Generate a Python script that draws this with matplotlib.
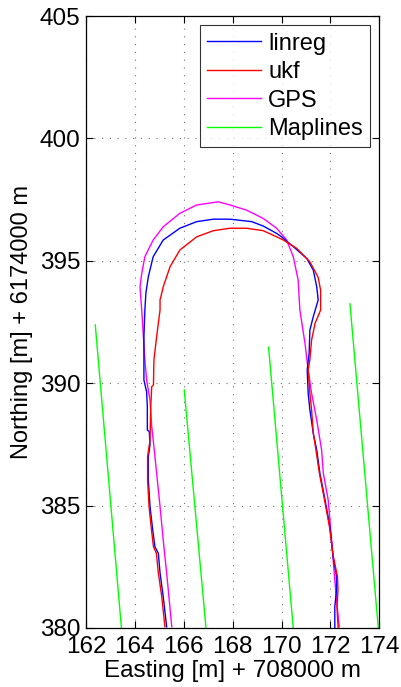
import matplotlib
matplotlib.use("Agg")
import matplotlib.pyplot as plt

plt.rcParams['font.family'] = ['Liberation Sans', 'DejaVu Sans']

# linreg trajectory
linreg_x = [165.30, 165.16, 165.03, 164.96, 164.82, 164.73, 164.62, 164.55, 164.55, 164.62,
            164.59, 164.51, 164.51, 164.48, 164.37, 164.37, 164.41, 164.45, 164.55, 164.75,
            165.16, 165.84, 166.53, 167.21, 167.89, 168.78, 169.25, 169.80, 170.00, 170.48,
            171.03, 171.30, 171.44, 171.50, 171.30, 171.16, 171.13, 171.05, 171.09, 171.16,
            171.30, 171.44, 171.57, 171.78, 171.98, 172.11, 172.25, 172.25, 172.18, 172.18, 172.18]
linreg_y = [380.05, 381.28, 382.25, 383.05, 383.32, 384.00, 384.96, 386.05, 387.00, 387.48,
            388.02, 388.09, 389.04, 389.65, 390.13, 391.90, 392.99, 393.67, 394.35, 395.17,
            395.85, 396.33, 396.60, 396.70, 396.70, 396.60, 396.42, 396.12, 395.98, 395.58,
            395.10, 394.62, 393.94, 393.40, 392.72, 392.17, 391.22, 390.54, 389.59, 388.91,
            387.95, 387.27, 386.32, 385.23, 384.14, 382.91, 382.10, 381.55, 380.87, 380.46, 380.00]

# ukf trajectory
ukf_x = [165.23, 165.10, 164.96, 164.88, 164.76, 164.68, 164.58, 164.52, 164.52, 164.62,
         164.65, 164.69, 164.76, 164.78, 164.89, 165.03, 165.03, 165.10, 165.16, 165.44,
         165.84, 166.53, 167.21, 167.89, 168.57, 169.25, 169.80, 170.07, 170.62, 171.16,
         171.50, 171.60, 171.60, 171.37, 171.23, 171.16, 171.09, 171.16, 171.23, 171.30,
         171.41, 171.55, 171.76, 171.96, 172.12, 172.29, 172.31, 172.27, 172.29, 172.32]
ukf_y = [380.05, 381.28, 382.25, 383.05, 383.32, 384.00, 384.96, 386.05, 387.00, 387.68,
         389.04, 389.86, 389.93, 390.95, 391.90, 392.99, 393.40, 393.68, 393.94, 394.76,
         395.44, 395.98, 396.23, 396.33, 396.33, 396.23, 395.98, 395.85, 395.51, 394.96,
         394.32, 393.80, 392.99, 392.44, 391.76, 390.95, 390.54, 389.59, 388.91, 387.95,
         387.27, 386.32, 385.23, 384.14, 382.91, 382.10, 381.55, 380.87, 380.46, 380.00]

# GPS trajectory
gps_x = [165.51, 165.30, 165.16, 165.03, 164.89, 164.75, 164.69, 164.62, 164.48, 164.41,
         164.34, 164.28, 164.21, 164.28, 164.41, 164.75, 165.16, 165.84, 166.53, 167.41,
         167.89, 168.57, 169.25, 169.80, 170.21, 170.48, 170.68, 170.75, 170.96, 171.09,
         171.23, 171.44, 171.64, 171.71, 171.91, 172.05, 172.18, 172.25, 172.36]
gps_y = [380.05, 382.25, 383.59, 384.96, 386.33, 387.68, 388.22, 389.31, 390.13, 390.95,
         392.05, 392.99, 393.94, 394.48, 395.17, 395.85, 396.39, 396.94, 397.28, 397.41,
         397.28, 397.07, 396.73, 396.33, 395.85, 395.17, 394.22, 392.99, 391.63, 390.54,
         389.59, 388.50, 387.27, 386.32, 385.23, 383.59, 381.96, 381.14, 380.05]

# Map lines (top and bottom end points)
map_x_top = [162.38, 166.02, 169.47, 172.80]
map_y_top = [392.38, 389.72, 391.47, 393.24]
map_x_bot = [163.45, 166.91, 170.48, 173.96]
map_y_bot = [380.0, 380.0, 380.0, 380.0]

x_ticks = [162, 164, 166, 168, 170, 172, 174]
y_ticks = [380, 385, 390, 395, 400, 405]

fig = plt.figure(figsize=(4.02, 6.87), dpi=100)
ax = fig.add_axes([0.2139, 0.0859, 0.7296, 0.8908])

ax.plot(linreg_x, linreg_y, color=(0, 0, 1), lw=1.0, label='linreg', zorder=3)
ax.plot(ukf_x, ukf_y, color=(1, 0, 0), lw=1.0, label='ukf', zorder=3)
ax.plot(gps_x, gps_y, color=(1, 0, 1), lw=1.0, label='GPS', zorder=2)
for i in range(len(map_x_top)):
    ax.plot([map_x_top[i], map_x_bot[i]], [map_y_top[i], map_y_bot[i]],
            color=(0, 1, 0), lw=1.0, label='Maplines' if i == 0 else None, zorder=2)

ax.set_xlim(162, 174)
ax.set_ylim(380, 405)
ax.set_xticks(x_ticks)
ax.set_yticks(y_ticks)
ax.tick_params(direction='in', length=5, width=0.8, top=True, right=True,
               labelsize=17.5)
ax.tick_params(axis='x', pad=6)
ax.tick_params(axis='y', pad=4)
ax.grid(True, color='0.45', linestyle=(0, (1, 6)), lw=0.8)
for s in ax.spines.values():
    s.set_linewidth(0.9)

ax.set_xlabel('Easting [m] + 708000 m', fontsize=17.5, labelpad=1)
ax.set_ylabel('Northing [m] + 6174000 m', fontsize=17, labelpad=5)

leg = ax.legend(loc='upper right', fontsize=17, frameon=True, fancybox=False,
                edgecolor='black', handlelength=2.3, handletextpad=0.3,
                labelspacing=0.28, borderpad=0.3, borderaxespad=0.4)
leg.get_frame().set_linewidth(0.8)
for l in leg.get_lines():
    l.set_linewidth(1.0)

fig.savefig('out.png', dpi=100)
